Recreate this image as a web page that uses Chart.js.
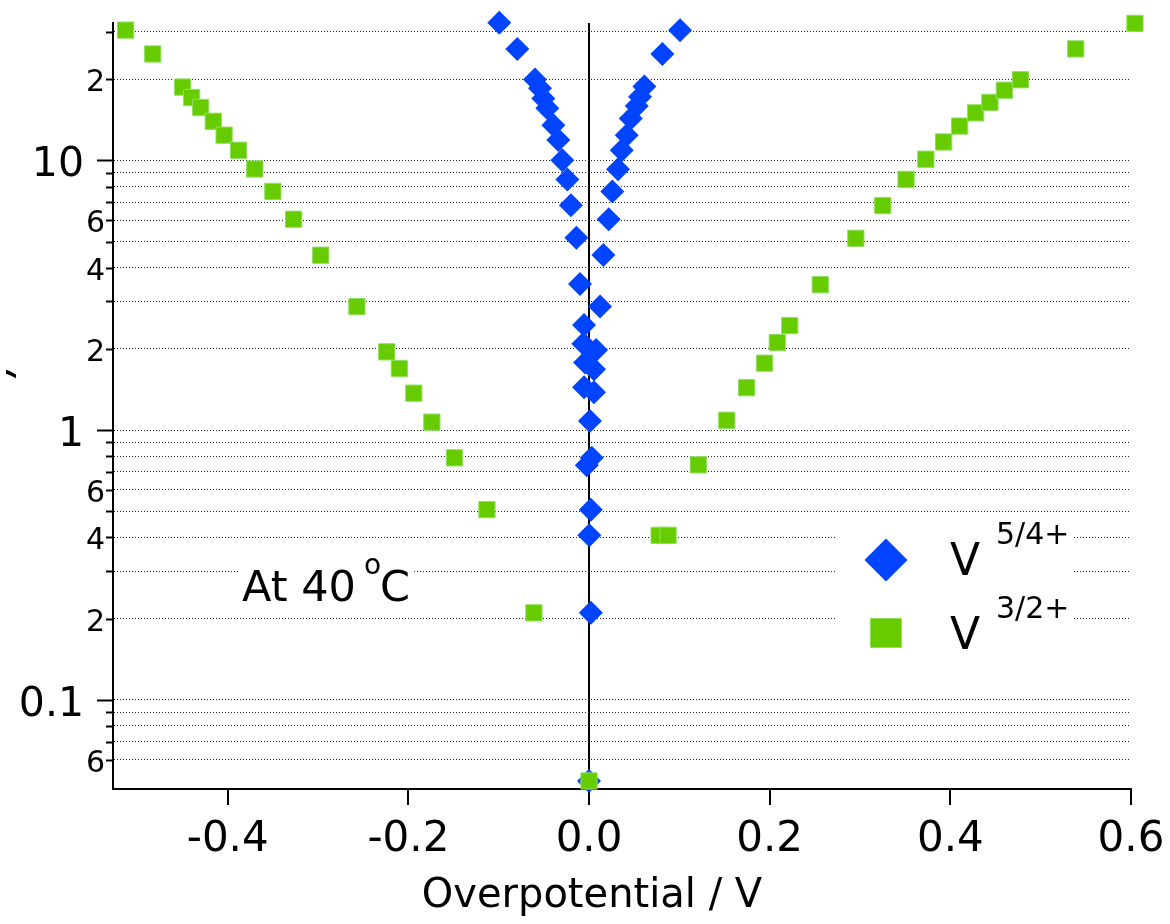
<!DOCTYPE html>
<html><head><meta charset="utf-8">
<script src="https://cdn.jsdelivr.net/npm/chart.js@4.4.1/dist/chart.umd.min.js"></script>
<style>html,body{margin:0;padding:0;background:#fff;overflow:hidden}</style>
</head><body>
<canvas id="c" width="1170" height="924" style="display:block;width:1170px;height:924px"></canvas>
<script>
// ---- data ----
const seriesNames = ['V5/4+', 'V3/2+'];
const seriesBase = ['V', 'V'];
const seriesSup = ['5/4+', '3/2+'];

const v54X = [-0.0994,-0.0794,-0.0598,-0.0543,-0.0506,-0.0462,-0.0395,-0.034,-0.0296,-0.024,-0.020,-0.014,-0.010,-0.0055,-0.0063,-0.0044,-0.0055,0.001,-0.0025,0.003,0.002,0.0003,0.002,0.000,0.0055,0.0055,0.0078,0.0122,0.0159,0.0218,0.0258,0.0321,0.0362,0.0417,0.0462,0.0528,0.0565,0.0613,0.0812,0.1008];
const v54Y = [32.4,25.9,19.95,18.5,16.95,15.6,13.5,11.9,10.0,8.50,6.82,5.16,3.48,2.45,2.09,1.78,1.44,1.08,0.741,0.789,0.507,0.407,0.210,0.050,1.38,1.68,1.98,2.87,4.46,6.05,7.67,9.26,10.9,12.4,14.3,15.9,17.2,18.8,24.8,30.4];

const v32X = [-0.513,-0.483,-0.450,-0.440,-0.430,-0.416,-0.404,-0.388,-0.370,-0.350,-0.327,-0.297,-0.257,-0.224,-0.210,-0.194,-0.174,-0.149,-0.113,-0.061,0.000,0.0776,0.0875,0.121,0.1525,0.1745,0.1943,0.2084,0.2222,0.256,0.2954,0.3252,0.351,0.3729,0.3926,0.4103,0.428,0.4438,0.4598,0.4776,0.5388,0.6044];
const v32Y = [30.4,24.8,18.7,17.1,15.7,13.96,12.4,10.9,9.29,7.67,6.05,4.45,2.87,1.95,1.69,1.37,1.07,0.789,0.507,0.210,0.050,0.407,0.407,0.743,1.087,1.436,1.77,2.11,2.44,3.46,5.14,6.80,8.50,10.1,11.7,13.4,15.0,16.4,18.2,19.9,25.9,32.2];

const xTickValues = [-0.4,-0.2,0,0.2,0.4,0.6];
const yTickValues = [0.06,0.07,0.08,0.09,0.1,0.2,0.3,0.4,0.5,0.6,0.7,0.8,0.9,1,2,3,4,5,6,7,8,9,10,20,30];
const yTickLabels = ['6','','','','0.1','2','','4','','6','','','','1','2','','4','','6','','','','10','2',''];
const yMajorValues = [0.1,1,10];

const xTitle = 'Overpotential / V';
const noteMain = 'At 40', noteSup = 'o', noteEnd = 'C';

const BLUE = '#0044ff';
const GREEN = '#66cc00';
const GREEN_EDGE = '#8fe060';
const FONT = '"DejaVu Sans", "Liberation Sans", sans-serif';

const toPts = (xs, ys) => xs.map((x, i) => ({x: x, y: ys[i]}));

const decor = {
  id: 'decor',
  beforeDatasetsDraw(chart) {
    const ctx = chart.ctx;
    ctx.save();
    ctx.fillStyle = '#fff';
    ctx.fillRect(835, 514, 238, 183);
    ctx.fillRect(240, 545, 172, 62);
    ctx.restore();
  },
  afterDraw(chart) {
    const ctx = chart.ctx;
    const ys = chart.scales.y;
    const left = chart.chartArea.left;
    ctx.save();
    // y ticks + labels
    ctx.strokeStyle = '#000';
    ctx.lineWidth = 2;
    ctx.fillStyle = '#000';
    ctx.textAlign = 'right';
    ctx.textBaseline = 'alphabetic';
    yTickValues.forEach((v, i) => {
      const py = Math.round(ys.getPixelForValue(v)) + 0.5;
      const major = yMajorValues.includes(v);
      const len = major ? 16 : 7;
      ctx.beginPath();
      ctx.moveTo(left - len, py);
      ctx.lineTo(left, py);
      ctx.stroke();
      const lab = yTickLabels[i];
      if (lab) {
        if (major) {
          ctx.font = '41px ' + FONT;
          ctx.fillText(lab, 84, py + 15);
        } else {
          ctx.font = '30px ' + FONT;
          ctx.fillText(lab, 105, py + 11);
        }
      }
    });
    // clipped fragment of the y-axis title
    ctx.save();
    ctx.beginPath();
    ctx.rect(6, 340, 20, 60);
    ctx.clip();
    ctx.translate(10, 382);
    ctx.rotate(-Math.PI / 2);
    ctx.font = '48px ' + FONT;
    ctx.textAlign = 'left';
    ctx.fillText(')', 0, 0);
    ctx.restore();

    // x-axis title
    ctx.textAlign = 'center';
    ctx.font = '40px ' + FONT;
    ctx.fillText(xTitle, 592, 907);

    // annotation
    ctx.textAlign = 'left';
    ctx.font = '43px ' + FONT;
    ctx.fillText(noteMain, 242, 601);
    ctx.font = '28px ' + FONT;
    ctx.fillText(noteSup, 364, 574);
    ctx.font = '43px ' + FONT;
    ctx.fillText(noteEnd, 380, 601);

    // legend
    ctx.fillStyle = BLUE;
    ctx.beginPath();
    ctx.moveTo(886 - 21.5, 560);
    ctx.lineTo(886, 560 - 21.5);
    ctx.lineTo(886 + 21.5, 560);
    ctx.lineTo(886, 560 + 21.5);
    ctx.closePath();
    ctx.fill();
    ctx.fillStyle = GREEN;
    ctx.fillRect(870, 618, 32, 30);
    ctx.strokeStyle = GREEN_EDGE;
    ctx.lineWidth = 1;
    ctx.strokeRect(870.5, 618.5, 31, 29);
    ctx.fillStyle = '#000';
    const rowsBase = [575, 649];
    const rowsSup = [544, 618];
    for (let i = 0; i < 2; i++) {
      ctx.font = '44px ' + FONT;
      ctx.fillText(seriesBase[i], 950, rowsBase[i]);
      ctx.font = '30px ' + FONT;
      ctx.fillText(seriesSup[i], 996, rowsSup[i]);
    }
    ctx.restore();
  }
};

new Chart(document.getElementById('c'), {
  type: 'scatter',
  data: {
    datasets: [
      {
        label: seriesNames[0],
        data: toPts(v54X, v54Y),
        pointStyle: 'rectRot',
        pointRadius: 12,
        pointHoverRadius: 12,
        backgroundColor: BLUE,
        borderColor: BLUE,
        borderWidth: 0,
        order: 1,
        clip: false
      },
      {
        label: seriesNames[1],
        data: toPts(v32X, v32Y),
        pointStyle: 'rect',
        pointRadius: 11.5,
        pointHoverRadius: 11.5,
        backgroundColor: GREEN,
        borderColor: GREEN_EDGE,
        borderWidth: 1,
        order: 0,
        clip: false
      }
    ]
  },
  options: {
    responsive: false,
    animation: false,
    devicePixelRatio: 1,
    layout: {padding: {left: 0, top: 23, right: 39, bottom: 0}},
    plugins: {legend: {display: false}, tooltip: {enabled: false}},
    events: [],
    scales: {
      x: {
        type: 'linear',
        min: -0.527,
        max: 0.6,
        afterBuildTicks: (s) => { s.ticks = xTickValues.map(v => ({value: v})); },
        afterFit: (s) => { s.height = 135; s.paddingLeft = 0; s.paddingRight = 0; },
        grid: {
          display: true,
          drawOnChartArea: true,
          drawTicks: true,
          color: (c) => (c.tick && c.tick.value === 0) ? '#000' : 'rgba(0,0,0,0)',
          lineWidth: 2,
          tickColor: '#000',
          tickWidth: 2,
          tickLength: 16
        },
        border: {display: true, color: '#000', width: 2},
        ticks: {
          color: '#000',
          font: {family: FONT, size: 42, lineHeight: 1},
          padding: 14,
          maxRotation: 0,
          autoSkip: false,
          callback: (v) => Number(v).toFixed(1)
        },
        title: {display: false}
      },
      y: {
        type: 'logarithmic',
        min: 0.04668,
        max: 32.31,
        afterBuildTicks: (s) => { s.ticks = yTickValues.map(v => ({value: v})); },
        afterFit: (s) => { s.width = 113; },
        grid: {
          display: true,
          drawOnChartArea: true,
          drawTicks: false,
          color: '#222',
          lineWidth: 1
        },
        border: {display: true, color: '#000', width: 2, dash: [1, 2]},
        ticks: {display: false}
      }
    }
  },
  plugins: [decor]
});
</script>
</body></html>
